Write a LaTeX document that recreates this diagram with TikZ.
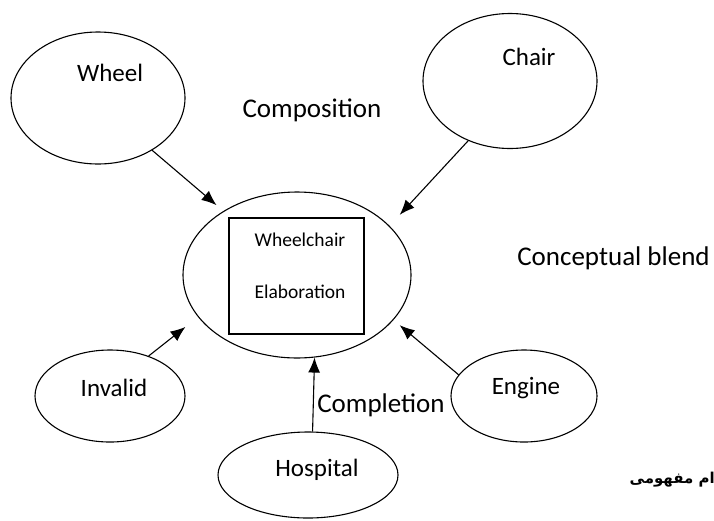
\documentclass[tikz,border=0pt]{standalone}
\usepackage{fontspec}
\setmainfont{Carlito}
\newfontfamily\persfont[Script=Arabic]{DejaVu Sans}
\TeXXeTstate=1
\usetikzlibrary{shapes.geometric,arrows.meta}

\tikzset{
  concept/.style={draw, ellipse, line width=1.1pt, inner sep=0pt},
  arr/.style={-{Latex[length=15pt,width=12pt]}, line width=1.1pt},
  lbl/.style={font=\fontsize{25}{30}\selectfont, inner sep=0pt},
  big/.style={font=\fontsize{27}{32}\selectfont, inner sep=0pt},
  small/.style={font=\fontsize{19.5}{24}\selectfont, inner sep=0pt}
}

\begin{document}
\begin{tikzpicture}[x=1pt, y=-1pt]
  \useasboundingbox (0,0) rectangle (714,520);

  % blended space
  \node[concept, minimum width=228pt, minimum height=166pt] (blend) at (297,275) {};
  \node[draw, line width=1.3pt, minimum width=135pt, minimum height=116pt] (box) at (296.5,276) {};
  \node[small] (wchair) at (300,240) {Wheelchair};
  \node[small] (elab) at (300,292) {Elaboration};

  % input spaces
  \node[concept, minimum width=174pt, minimum height=132pt] (wheel) at (98,98) {};
  \node[concept, minimum width=174pt, minimum height=135pt] (chair) at (510,81) {};
  \node[concept, minimum width=150pt, minimum height=92pt] (invalid) at (110,396) {};
  \node[concept, minimum width=146pt, minimum height=92pt] (engine) at (524,396) {};
  \node[concept, minimum width=180pt, minimum height=86pt] (hospital) at (308,475) {};

  \node[lbl] (wheeltxt) at (110,73) {Wheel};
  \node[lbl] (chairtxt) at (529,57) {Chair};
  \node[lbl] (invalidtxt) at (114,388) {Invalid};
  \node[lbl] (enginetxt) at (526,388) {Engine};
  \node[lbl] (hospitaltxt) at (317,470) {Hospital};

  \node[big] (compos) at (312,110) {Composition};
  \node[big] (complet) at (381,405) {Completion};
  \node[big] (cblend) at (613.5,258) {Conceptual blend};
  \node[inner sep=0pt, anchor=east, font=\fontsize{15}{18}\selectfont] (fatxt) at (715,480)
    {\persfont\bfseries\beginR ام مفهومی\endR};

  \draw[arr, shorten >=9pt] (wheel.-44) -- (blend.139);
  \draw[arr, shorten >=15pt] (chair.-125) -- (blend.28);
  \draw[arr, shorten >=16pt] (invalid.46) -- (blend.203);
  \draw[arr, shorten >=8pt] (engine.162) -- (blend.-25);
  \draw[arr] (hospital.84) -- (blend.-78);
\end{tikzpicture}
\end{document}
